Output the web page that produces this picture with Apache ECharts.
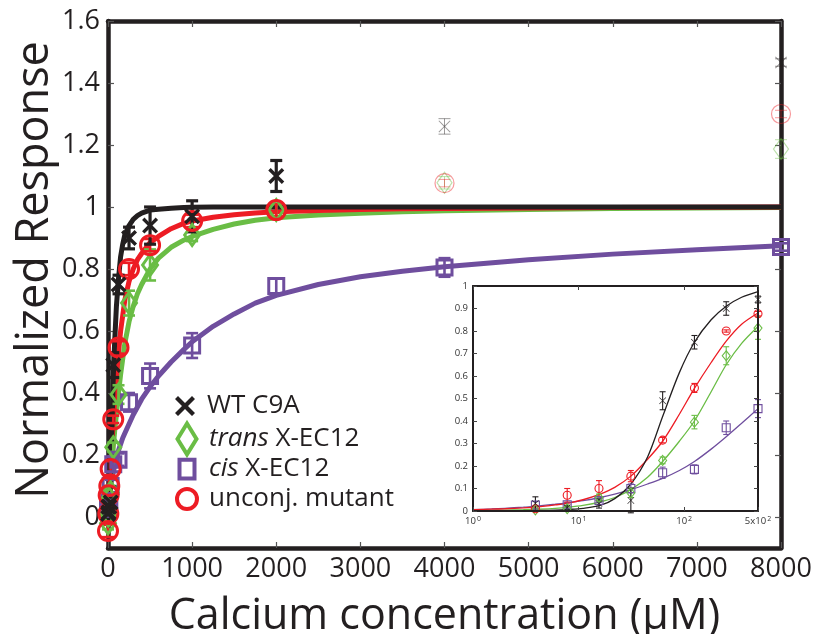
<!DOCTYPE html>
<html>
<head>
<meta charset="utf-8">
<script src="https://cdn.jsdelivr.net/npm/echarts@6/dist/echarts.min.js"></script>
<style>
  html, body { margin: 0; padding: 0; background: #fff; }
  #chart { width: 814px; height: 634px; }
</style>
</head>
<body>
<div id="chart"></div>
<script>
// calcium concentrations (uM) of the measured points
const conc = [0, 3.9, 7.8, 15.6, 31.25, 62.5, 125, 250, 500, 1000, 2000, 4000, 8000]
// points left out of the fit (drawn faded)
const outliers = [11, 12]

// measured responses
const wtVals = [0.01, 0.033, 0.015, 0.033, 0.047, 0.49, 0.75, 0.90, 0.94, 0.97, 1.10, 1.26, 1.466]
const transVals = [-0.02, 0.005, 0.01, 0.06, 0.08, 0.225, 0.395, 0.69, 0.813, 0.91, 0.99, 1.078, 1.187]
const cisVals = [0.03, 0.027, 0.028, 0.047, 0.10, 0.17, 0.185, 0.37, 0.455, 0.553, 0.745, 0.805, 0.871]
const unconjVals = [-0.045, 0.01, 0.07, 0.10, 0.155, 0.315, 0.547, 0.80, 0.877, 0.955, 0.99, 1.077, 1.30]

// error bars as seen in the main plot
const wtErrMain = [0.02, 0.03, 0.01, 0.02, 0.05, 0.04, 0.03, 0.035, 0.06, 0.05, 0.05, 0.025, 0.012]
const transErrMain = [0.02, 0.01, 0.01, 0.015, 0.02, 0.015, 0.03, 0.04, 0.05, 0.02, 0.02, 0.02, 0.03]
const cisErrMain = [0.02, 0.015, 0.01, 0.01, 0.02, 0.025, 0.02, 0.03, 0.04, 0.04, 0.025, 0.03, 0.012]
const unconjErrMain = [0.02, 0.01, 0.03, 0.035, 0.025, 0.012, 0.02, 0.02, 0.02, 0.02, 0.02, 0.012, 0.012]

// error bars as seen in the inset
const wtErrInset = [0, 0.03, 0.01, 0.02, 0.055, 0.04, 0.03, 0.03, 0.015, 0, 0, 0, 0]
const transErrInset = [0, 0.005, 0.01, 0.015, 0.02, 0.015, 0.03, 0.04, 0.05, 0, 0, 0, 0]
const cisErrInset = [0, 0.015, 0.01, 0.01, 0.02, 0.025, 0.02, 0.03, 0.04, 0, 0, 0, 0]
const unconjErrInset = [0, 0.01, 0.03, 0.035, 0.025, 0.012, 0.02, 0.005, 0.01, 0, 0, 0, 0]

// fitted curves, main plot (linear x)
const fitConcMain = [0, 10, 20, 31.25, 45, 62.5, 80, 100, 125, 150, 175, 200, 250, 300, 350, 400, 500, 600, 750, 900, 1000, 1250, 1500, 1750, 2000, 2500, 3000, 3500, 4000, 5000, 6000, 7000, 8000]
const wtFitMain = [0, 0.01, 0.06, 0.14, 0.27, 0.45, 0.57, 0.68, 0.77, 0.84, 0.88, 0.91, 0.94, 0.96, 0.972, 0.98, 0.99, 0.993, 0.996, 0.998, 0.999, 1, 1, 1, 1, 1, 1, 1, 1, 1, 1, 1, 1]
const unconjFitMain = [0, 0.05, 0.10, 0.16, 0.23, 0.31, 0.38, 0.45, 0.53, 0.60, 0.65, 0.70, 0.76, 0.80, 0.83, 0.85, 0.885, 0.905, 0.93, 0.947, 0.955, 0.967, 0.975, 0.981, 0.985, 0.989, 0.992, 0.994, 0.995, 0.997, 0.998, 0.999, 1]
const transFitMain = [0, 0.02, 0.055, 0.10, 0.16, 0.225, 0.28, 0.33, 0.40, 0.46, 0.51, 0.56, 0.63, 0.68, 0.72, 0.75, 0.80, 0.835, 0.87, 0.893, 0.905, 0.928, 0.945, 0.957, 0.965, 0.974, 0.98, 0.985, 0.988, 0.992, 0.995, 0.997, 0.998]
const cisFitMain = [0, 0.045, 0.075, 0.10, 0.12, 0.145, 0.165, 0.19, 0.215, 0.235, 0.255, 0.27, 0.30, 0.33, 0.355, 0.38, 0.42, 0.455, 0.50, 0.54, 0.565, 0.615, 0.655, 0.69, 0.715, 0.75, 0.775, 0.793, 0.807, 0.83, 0.848, 0.862, 0.875]

// fitted curves, inset (log x)
const fitConcInset = [1, 1.5, 2, 3, 4, 6, 8, 11, 16, 22, 31.25, 45, 62.5, 90, 125, 180, 250, 350, 500]
const wtFitInset = [0, 0, 0.0005, 0.001, 0.002, 0.004, 0.007, 0.012, 0.025, 0.055, 0.12, 0.24, 0.42, 0.615, 0.75, 0.85, 0.91, 0.95, 0.975]
const unconjFitInset = [0.006, 0.008, 0.01, 0.014, 0.018, 0.027, 0.035, 0.05, 0.075, 0.105, 0.155, 0.23, 0.31, 0.43, 0.545, 0.66, 0.755, 0.83, 0.88]
const transFitInset = [0.002, 0.003, 0.004, 0.006, 0.008, 0.012, 0.017, 0.025, 0.04, 0.06, 0.095, 0.15, 0.22, 0.31, 0.40, 0.53, 0.65, 0.745, 0.82]
const cisFitInset = [0.006, 0.009, 0.012, 0.017, 0.022, 0.03, 0.037, 0.046, 0.06, 0.075, 0.095, 0.12, 0.145, 0.18, 0.22, 0.275, 0.33, 0.39, 0.455]

// tick labels
const mainYTicks = [0, 0.2, 0.4, 0.6, 0.8, 1, 1.2, 1.4, 1.6]
const legendNames = ['WT C9A', 'trans X-EC12', 'cis X-EC12', 'unconj. mutant']

const BLACK = '#231f20'
const GREEN = '#6abd45'
const PURPLE = '#6f4e9e'
const RED = '#ed1c24'
const FONT = '"Open Sans", "Noto Sans", sans-serif'

const crossBold = 'path://M3,0 L10,7 L17,0 L20,3 L13,10 L20,17 L17,20 L10,13 L3,20 L0,17 L7,10 L0,3 Z'
const crossThin = 'path://M1.2,0 L10,8.8 L18.8,0 L20,1.2 L11.2,10 L20,18.8 L18.8,20 L10,11.2 L1.2,20 L0,18.8 L8.8,10 L0,1.2 Z'

const groups = [
  { name: legendNames[0], color: BLACK, vals: wtVals, errMain: wtErrMain, errInset: wtErrInset, fitMain: wtFitMain, fitInset: wtFitInset, symbol: crossBold, fade: true, filled: true, size: 16, insetSize: 7 },
  { name: legendNames[1], color: GREEN, vals: transVals, errMain: transErrMain, errInset: transErrInset, fitMain: transFitMain, fitInset: transFitInset, symbol: 'diamond', fade: true, filled: false, size: [15, 21], insetSize: [8, 10] },
  { name: legendNames[2], color: PURPLE, vals: cisVals, errMain: cisErrMain, errInset: cisErrInset, fitMain: cisFitMain, fitInset: cisFitInset, symbol: 'rect', fade: false, filled: false, size: 15, insetSize: 8 },
  { name: legendNames[3], color: RED, vals: unconjVals, errMain: unconjErrMain, errInset: unconjErrInset, fitMain: unconjFitMain, fitInset: unconjFitInset, symbol: 'circle', fade: true, filled: false, size: 19, insetSize: 8 }
]

function errRenderer(color, width, cap) {
  return function (params, api) {
    const x = api.value(0), y = api.value(1), e = api.value(2), f = api.value(3)
    const lo = api.coord([x, y - e])
    const hi = api.coord([x, y + e])
    const style = { stroke: color, lineWidth: f ? 1 : width, opacity: f ? 0.45 : 1 }
    return {
      type: 'group',
      children: [
        { type: 'line', shape: { x1: lo[0], y1: lo[1], x2: hi[0], y2: hi[1] }, style },
        { type: 'line', shape: { x1: lo[0] - cap, y1: lo[1], x2: lo[0] + cap, y2: lo[1] }, style },
        { type: 'line', shape: { x1: hi[0] - cap, y1: hi[1], x2: hi[0] + cap, y2: hi[1] }, style }
      ]
    }
  }
}

const series = []
// draw order: purple, green, red, black on top
const order = [2, 1, 3, 0]

// main plot
order.forEach(gi => {
  const g = groups[gi]
  series.push({
    type: 'line', xAxisIndex: 0, yAxisIndex: 0, z: 2,
    data: fitConcMain.map((x, i) => [x, g.fitMain[i]]),
    showSymbol: false, smooth: false,
    lineStyle: { color: g.color, width: 5, join: 'round' }, silent: true
  })
})
order.forEach(gi => {
  const g = groups[gi]
  series.push({
    type: 'custom', xAxisIndex: 0, yAxisIndex: 0, z: 3,
    renderItem: errRenderer(g.color, gi === 0 ? 3.2 : 2.6, 6),
    encode: { x: 0, y: 1 },
    data: conc.map((x, i) => [x, g.vals[i], g.errMain[i], g.fade && outliers.includes(i) ? 1 : 0])
  })
  series.push({
    name: g.name, type: 'scatter', xAxisIndex: 0, yAxisIndex: 0, z: 4,
    symbol: g.symbol, symbolSize: g.size,
    itemStyle: g.filled ? { color: g.color, opacity: 1 } : { color: 'rgba(0,0,0,0)', borderColor: g.color, borderWidth: 3, opacity: 1 },
    data: conc.map((x, i) => {
      if (g.fade && outliers.includes(i)) {
        return {
          value: [x, g.vals[i]],
          symbol: g.filled ? crossThin : g.symbol,
          symbolSize: g.filled ? 12 : g.size,
          itemStyle: g.filled ? { color: g.color, opacity: 0.45 } : { borderWidth: 1.2, opacity: 0.45 }
        }
      }
      return [x, g.vals[i]]
    })
  })
})

// inset (log x)
const insetIdx = [1, 2, 3, 4, 5, 6, 7, 8]
order.forEach(gi => {
  const g = groups[gi]
  series.push({
    type: 'line', xAxisIndex: 2, yAxisIndex: 2, z: 6,
    data: fitConcInset.map((x, i) => [x, g.fitInset[i]]),
    showSymbol: false, smooth: 0.3,
    lineStyle: { color: g.color, width: 1.3 }, silent: true
  })
})
order.forEach(gi => {
  const g = groups[gi]
  series.push({
    type: 'custom', xAxisIndex: 2, yAxisIndex: 2, z: 7,
    renderItem: errRenderer(g.color, 1.1, 3),
    encode: { x: 0, y: 1 },
    data: insetIdx.map(i => [conc[i], g.vals[i], g.errInset[i], 0])
  })
  series.push({
    type: 'scatter', xAxisIndex: 2, yAxisIndex: 2, z: 8,
    symbol: g.filled ? crossThin : g.symbol, symbolSize: g.insetSize,
    itemStyle: g.filled ? { color: g.color, opacity: 1 } : { color: 'rgba(0,0,0,0)', borderColor: g.color, borderWidth: 1.1, opacity: 1 },
    data: insetIdx.map(i => [conc[i], g.vals[i]])
  })
})

// one legend box per entry so every marker keeps its own size
const legendRows = [
  { name: legendNames[0], center: 406, w: 20, h: 20, icon: crossBold, style: { color: BLACK, borderWidth: 0, opacity: 1 } },
  { name: legendNames[1], center: 437, w: 19, h: 31, icon: 'path://M8,0 L16,13 L8,26 L0,13 Z', style: { color: 'rgba(0,0,0,0)', borderColor: GREEN, borderWidth: 4, opacity: 1 } },
  { name: legendNames[2], center: 469, w: 15, h: 19, icon: 'path://M0,0 L12,0 L12,15 L0,15 Z', style: { color: 'rgba(0,0,0,0)', borderColor: PURPLE, borderWidth: 4, opacity: 1 } },
  { name: legendNames[3], center: 499, w: 20, h: 20, icon: 'circle', style: { color: 'rgba(0,0,0,0)', borderColor: RED, borderWidth: 4, opacity: 1 } }
]
const legends = legendRows.map(r => ({
  orient: 'vertical', left: 185 - r.w / 2, top: r.center - Math.max(r.h, 28) / 2, padding: 0,
  itemWidth: r.w, itemHeight: r.h, selectedMode: false,
  textStyle: {
    fontSize: 26, color: BLACK, fontFamily: FONT, lineHeight: 28, padding: [0, 0, 0, 17 - r.w / 2],
    rich: { i: { fontSize: 26, color: BLACK, fontFamily: FONT, fontStyle: 'italic', lineHeight: 28 } }
  },
  formatter: name => {
    if (name.startsWith('trans ')) return '{i|trans} ' + name.slice(6)
    if (name.startsWith('cis ')) return '{i|cis} ' + name.slice(4)
    return name
  },
  data: [{ name: r.name, icon: r.icon, itemStyle: r.style }]
}))

const mainAxisLine = { show: true, onZero: false, lineStyle: { color: BLACK, width: 4.5 } }
const mainTick = { show: true, inside: true, length: 6, lineStyle: { color: '#555', width: 1.2 } }
const insetAxisLine = { show: true, onZero: false, lineStyle: { color: BLACK, width: 2 } }
const insetTick = { show: true, inside: true, length: 4, lineStyle: { color: '#444', width: 1 } }
const insetLabel = { fontSize: 9.5, color: '#333', fontFamily: FONT }

const option = {
  animation: false,
  backgroundColor: '#fff',
  grid: [
    { left: 108, right: 33, top: 21, bottom: 86, outerBoundsMode: 'none', containLabel: false },
    { left: 473, right: 56, top: 286, bottom: 123, outerBoundsMode: 'none', containLabel: false, show: true, backgroundColor: '#fff', borderWidth: 0, z: 5 }
  ],
  xAxis: [
    {
      type: 'value', gridIndex: 0, min: 0, max: 8000, interval: 1000, position: 'bottom',
      axisLine: mainAxisLine, axisTick: mainTick, splitLine: { show: false },
      axisLabel: { fontSize: 27, color: BLACK, fontFamily: FONT, margin: 8, formatter: v => String(v) },
      name: 'Calcium concentration (µM)', nameLocation: 'middle', nameGap: 47,
      nameTextStyle: { fontSize: 43, color: BLACK, fontFamily: FONT }
    },
    {
      type: 'value', gridIndex: 0, min: 0, max: 8000, interval: 1000, position: 'top',
      axisLine: mainAxisLine, axisTick: mainTick, splitLine: { show: false }, axisLabel: { show: false }
    },
    {
      type: 'log', logBase: 10, gridIndex: 1, min: 1, max: 500, position: 'bottom', z: 9,
      axisLine: insetAxisLine, axisTick: insetTick, splitLine: { show: false }, minorTick: { show: false },
      axisLabel: Object.assign({}, insetLabel, {
        margin: 4, showMaxLabel: true,
        formatter: v => {
          if (Math.abs(v - 500) < 1) return '5x10{s|2}'
          return '10{s|' + Math.round(Math.log10(v)) + '}'
        },
        rich: { s: { fontSize: 7, color: '#333', fontFamily: FONT, verticalAlign: 'top', padding: [0, 0, 6, 1] } }
      })
    },
    {
      type: 'log', logBase: 10, gridIndex: 1, min: 1, max: 500, position: 'top', z: 9,
      axisLine: insetAxisLine, axisTick: insetTick, splitLine: { show: false }, axisLabel: { show: false }
    }
  ],
  yAxis: [
    {
      type: 'value', gridIndex: 0, min: -0.1, max: 1.6, position: 'left',
      axisLine: mainAxisLine, axisTick: Object.assign({ customValues: mainYTicks }, mainTick), splitLine: { show: false },
      axisLabel: { fontSize: 27, color: BLACK, fontFamily: FONT, margin: 8, customValues: mainYTicks, formatter: v => String(+v.toFixed(1)) }
    },
    {
      type: 'value', gridIndex: 0, min: -0.1, max: 1.6, position: 'right',
      axisLine: mainAxisLine, axisTick: Object.assign({ customValues: mainYTicks }, mainTick), splitLine: { show: false },
      axisLabel: { show: false }
    },
    {
      type: 'value', gridIndex: 1, min: 0, max: 1, interval: 0.1, position: 'left', z: 9,
      axisLine: insetAxisLine, axisTick: insetTick, splitLine: { show: false },
      axisLabel: Object.assign({}, insetLabel, { margin: 5, formatter: v => String(+v.toFixed(1)) })
    },
    {
      type: 'value', gridIndex: 1, min: 0, max: 1, interval: 0.1, position: 'right', z: 9,
      axisLine: insetAxisLine, axisTick: insetTick, splitLine: { show: false }, axisLabel: { show: false }
    }
  ],
  legend: legends,
  graphic: [
    {
      type: 'text', x: 35, y: 270, rotation: Math.PI / 2,
      style: { text: 'Normalized Response', fontSize: 45, fill: BLACK, fontFamily: FONT, align: 'center', verticalAlign: 'middle' }
    }
  ],
  series
}

const chart = echarts.init(document.getElementById('chart'))
chart.setOption(option)
window.addEventListener('resize', () => chart.resize())
</script>
</body>
</html>
